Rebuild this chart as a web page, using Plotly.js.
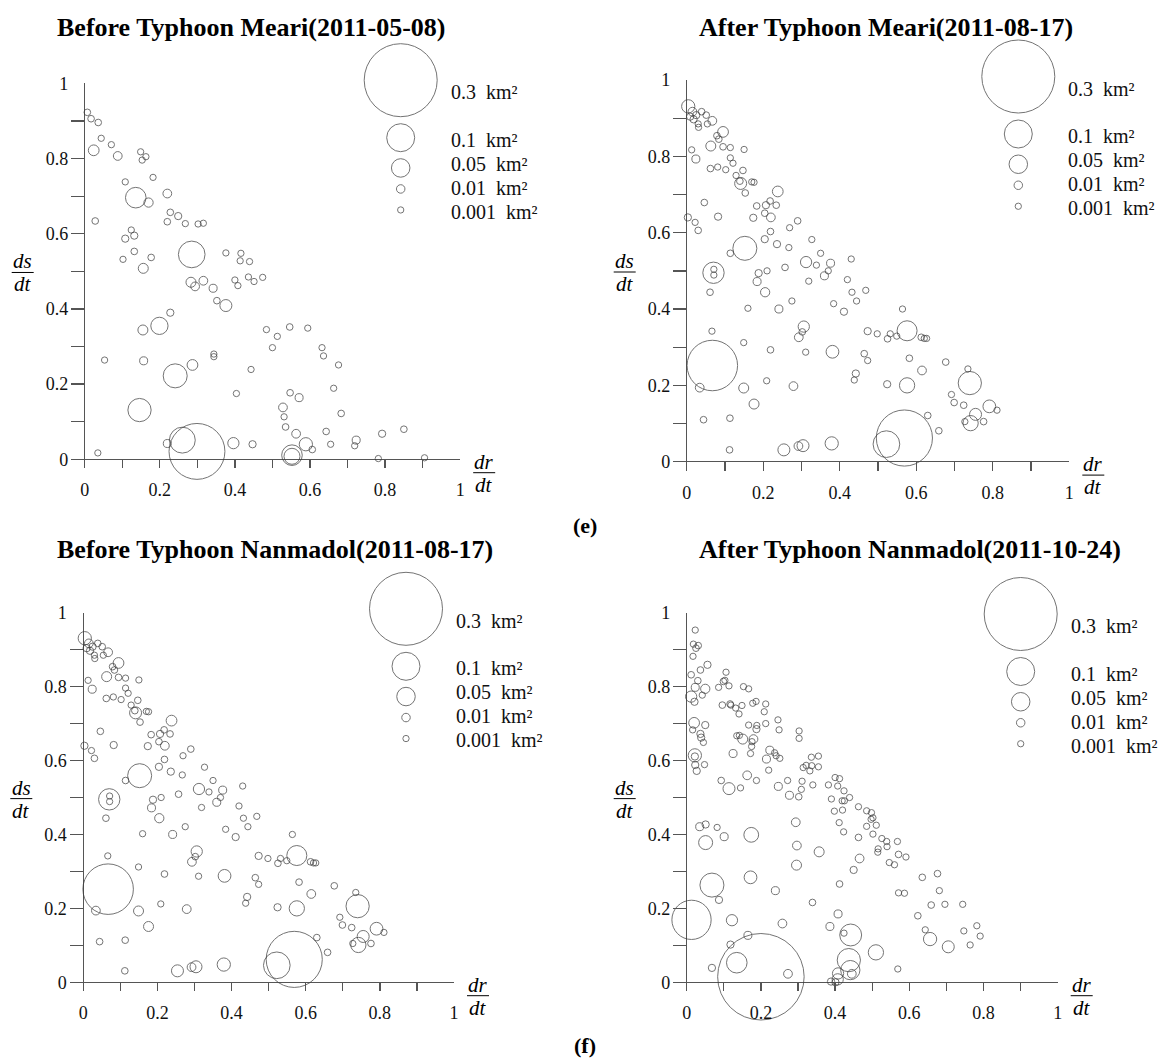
<!DOCTYPE html>
<html><head><meta charset="utf-8">
<script src="https://cdn.plot.ly/plotly-3.0.1.min.js"></script>
<style>html,body{margin:0;padding:0;background:#fff}</style>
</head><body><div id="chart" style="width:1170px;height:1061px"></div>
<script>
const W = 1170, H = 1061;

// ---------- DATA ----------
// Panel (e) left: Before Typhoon Meari (2011-05-08)
const meariBeforeX = [0.007,0.017,0.036,0.044,0.024,0.071,0.088,0.149,0.153,0.163,0.182,0.108,0.136,0.170,0.220,0.028,0.228,0.249,0.220,0.268,0.302,0.316,0.124,0.132,0.108,0.132,0.102,0.177,0.156,0.285,0.283,0.294,0.316,0.342,0.376,0.416,0.414,0.439,0.400,0.408,0.436,0.451,0.474,0.352,0.376,0.228,0.199,0.155,0.053,0.157,0.344,0.344,0.287,0.241,0.443,0.404,0.484,0.513,0.500,0.546,0.594,0.632,0.636,0.676,0.663,0.547,0.571,0.528,0.531,0.683,0.535,0.563,0.589,0.606,0.643,0.655,0.723,0.719,0.792,0.850,0.552,0.552,0.782,0.905,0.146,0.035,0.220,0.260,0.299,0.396,0.447];
const meariBeforeY = [0.923,0.906,0.896,0.854,0.822,0.837,0.807,0.818,0.796,0.805,0.750,0.738,0.696,0.683,0.707,0.634,0.657,0.647,0.632,0.627,0.626,0.628,0.610,0.595,0.587,0.553,0.532,0.537,0.508,0.545,0.471,0.460,0.475,0.455,0.549,0.548,0.528,0.526,0.477,0.462,0.485,0.473,0.484,0.422,0.409,0.390,0.355,0.344,0.264,0.262,0.280,0.273,0.251,0.222,0.239,0.175,0.345,0.327,0.297,0.352,0.349,0.297,0.275,0.251,0.189,0.177,0.164,0.138,0.113,0.122,0.086,0.068,0.040,0.026,0.074,0.040,0.051,0.036,0.068,0.080,0.011,0.008,0.002,0.004,0.131,0.017,0.042,0.051,0.021,0.043,0.040];
const meariBeforeArea = [0.0025,0.0025,0.0025,0.001,0.019,0.001,0.011,0.001,0.001,0.001,0.001,0.001,0.061,0.013,0.011,0.0025,0.0025,0.005,0.0025,0.001,0.001,0.001,0.001,0.005,0.005,0.0025,0.001,0.0025,0.016,0.093,0.016,0.011,0.011,0.008,0.001,0.001,0.001,0.001,0.001,0.001,0.001,0.001,0.001,0.0025,0.024,0.005,0.045,0.016,0.001,0.008,0.001,0.001,0.019,0.079,0.001,0.001,0.001,0.001,0.001,0.0025,0.001,0.001,0.001,0.001,0.001,0.0025,0.008,0.011,0.001,0.0025,0.0025,0.011,0.029,0.0025,0.0025,0.001,0.008,0.001,0.005,0.0025,0.061,0.040,0.001,0.001,0.075,0.001,0.008,0.089,0.224,0.021,0.005];

// 2011-08-17: After Typhoon Meari = Before Typhoon Nanmadol (same image date)
const aug17X = [0.004,0.015,0.009,0.018,0.025,0.039,0.051,0.030,0.031,0.054,0.067,0.095,0.079,0.084,0.063,0.095,0.114,0.150,0.013,0.024,0.114,0.121,0.062,0.081,0.102,0.129,0.147,0.141,0.139,0.170,0.176,0.153,0.238,0.046,0.183,0.207,0.218,0.234,0.204,0.220,0.174,0.082,0.003,0.022,0.030,0.219,0.269,0.290,0.204,0.236,0.267,0.152,0.114,0.327,0.350,0.312,0.339,0.376,0.370,0.360,0.430,0.257,0.210,0.188,0.184,0.205,0.070,0.071,0.071,0.061,0.319,0.420,0.432,0.444,0.468,0.384,0.411,0.275,0.241,0.160,0.066,0.306,0.302,0.293,0.149,0.219,0.311,0.381,0.473,0.498,0.525,0.532,0.549,0.464,0.473,0.067,0.034,0.149,0.209,0.279,0.442,0.438,0.524,0.176,0.044,0.113,0.112,0.254,0.292,0.304,0.379,0.522,0.564,0.576,0.613,0.621,0.627,0.582,0.615,0.677,0.735,0.740,0.576,0.692,0.699,0.724,0.791,0.811,0.755,0.742,0.727,0.776,0.630,0.659,0.569];
const aug17Y = [0.931,0.917,0.904,0.897,0.908,0.917,0.908,0.885,0.876,0.885,0.893,0.864,0.854,0.845,0.827,0.825,0.823,0.818,0.817,0.793,0.796,0.782,0.768,0.772,0.765,0.750,0.763,0.729,0.735,0.733,0.732,0.704,0.708,0.679,0.670,0.672,0.683,0.672,0.651,0.640,0.639,0.642,0.640,0.627,0.606,0.603,0.613,0.631,0.583,0.570,0.561,0.559,0.546,0.582,0.546,0.523,0.515,0.520,0.500,0.487,0.531,0.509,0.500,0.494,0.472,0.444,0.495,0.504,0.489,0.444,0.473,0.477,0.444,0.421,0.449,0.414,0.393,0.421,0.400,0.402,0.342,0.354,0.340,0.326,0.312,0.293,0.287,0.288,0.342,0.335,0.322,0.335,0.329,0.283,0.265,0.252,0.194,0.193,0.212,0.198,0.231,0.214,0.203,0.151,0.110,0.114,0.031,0.031,0.041,0.042,0.048,0.046,0.400,0.343,0.326,0.323,0.323,0.271,0.239,0.261,0.243,0.206,0.200,0.176,0.155,0.148,0.145,0.135,0.124,0.101,0.105,0.105,0.121,0.081,0.062];
const aug17Area = [0.029,0.011,0.005,0.005,0.005,0.0025,0.0025,0.001,0.001,0.001,0.011,0.019,0.0025,0.0025,0.016,0.0025,0.001,0.001,0.001,0.008,0.001,0.001,0.0025,0.001,0.001,0.001,0.0025,0.024,0.0025,0.001,0.001,0.0025,0.019,0.0025,0.0025,0.005,0.0025,0.0025,0.0025,0.011,0.005,0.005,0.005,0.001,0.0025,0.0025,0.001,0.0025,0.005,0.005,0.001,0.079,0.0025,0.001,0.001,0.021,0.001,0.008,0.001,0.008,0.001,0.0025,0.001,0.005,0.008,0.013,0.065,0.001,0.001,0.0025,0.001,0.001,0.001,0.001,0.001,0.001,0.005,0.001,0.008,0.001,0.001,0.021,0.0025,0.011,0.001,0.0025,0.001,0.027,0.005,0.001,0.0025,0.001,0.001,0.0025,0.001,0.2,0.011,0.016,0.001,0.011,0.005,0.001,0.005,0.016,0.0025,0.0025,0.0025,0.024,0.011,0.024,0.029,0.093,0.001,0.058,0.0025,0.001,0.001,0.0025,0.011,0.0025,0.001,0.075,0.037,0.001,0.0025,0.0025,0.027,0.001,0.024,0.037,0.001,0.0025,0.0025,0.0025,0.225];

// Panel (f) right: After Typhoon Nanmadol (2011-10-24)
const nanmadolAfterX = [0.023,0.018,0.031,0.025,0.017,0.056,0.037,0.012,0.030,0.023,0.050,0.042,0.012,0.021,0.106,0.099,0.103,0.114,0.086,0.153,0.167,0.096,0.117,0.119,0.132,0.141,0.149,0.178,0.187,0.213,0.209,0.020,0.016,0.050,0.037,0.039,0.045,0.022,0.022,0.023,0.027,0.048,0.167,0.189,0.213,0.188,0.135,0.142,0.151,0.180,0.176,0.175,0.172,0.125,0.246,0.249,0.224,0.237,0.241,0.251,0.215,0.221,0.163,0.188,0.093,0.114,0.145,0.247,0.272,0.303,0.303,0.336,0.355,0.314,0.322,0.332,0.337,0.355,0.311,0.309,0.340,0.277,0.302,0.382,0.400,0.412,0.407,0.424,0.419,0.425,0.439,0.390,0.398,0.420,0.411,0.423,0.463,0.485,0.498,0.497,0.502,0.485,0.511,0.502,0.463,0.526,0.539,0.516,0.515,0.540,0.546,0.568,0.571,0.591,0.560,0.635,0.676,0.681,0.571,0.587,0.659,0.696,0.744,0.623,0.643,0.656,0.705,0.747,0.782,0.791,0.764,0.569,0.035,0.051,0.082,0.101,0.051,0.174,0.294,0.297,0.357,0.296,0.466,0.450,0.172,0.239,0.412,0.068,0.087,0.339,0.013,0.122,0.258,0.408,0.386,0.424,0.442,0.510,0.165,0.118,0.135,0.068,0.200,0.273,0.437,0.441,0.445,0.408,0.407,0.389,0.401];
const nanmadolAfterY = [0.953,0.915,0.911,0.904,0.882,0.859,0.845,0.832,0.816,0.798,0.794,0.777,0.773,0.759,0.839,0.814,0.817,0.802,0.798,0.800,0.794,0.750,0.753,0.750,0.742,0.726,0.749,0.755,0.760,0.753,0.732,0.702,0.683,0.696,0.672,0.662,0.649,0.614,0.611,0.588,0.572,0.589,0.696,0.695,0.700,0.685,0.667,0.668,0.658,0.658,0.651,0.638,0.619,0.619,0.710,0.683,0.628,0.621,0.613,0.606,0.604,0.574,0.560,0.546,0.546,0.524,0.526,0.530,0.546,0.680,0.660,0.609,0.612,0.581,0.587,0.572,0.586,0.583,0.544,0.522,0.534,0.506,0.502,0.534,0.554,0.551,0.531,0.518,0.491,0.491,0.500,0.496,0.463,0.466,0.432,0.407,0.475,0.464,0.459,0.441,0.445,0.422,0.425,0.401,0.392,0.389,0.381,0.361,0.352,0.367,0.324,0.381,0.346,0.339,0.318,0.284,0.294,0.248,0.242,0.241,0.209,0.211,0.211,0.180,0.142,0.117,0.096,0.139,0.153,0.125,0.101,0.036,0.421,0.427,0.419,0.394,0.378,0.399,0.433,0.370,0.353,0.317,0.335,0.304,0.284,0.248,0.266,0.263,0.223,0.216,0.169,0.168,0.159,0.185,0.151,0.133,0.128,0.081,0.127,0.102,0.053,0.039,0.015,0.023,0.060,0.033,0.023,0.024,0.008,0.002,0.000];
const nanmadolAfterArea = [0.001,0.001,0.0025,0.0025,0.001,0.005,0.0025,0.0025,0.0025,0.008,0.013,0.001,0.021,0.005,0.001,0.0025,0.001,0.001,0.001,0.001,0.001,0.0025,0.0025,0.001,0.001,0.001,0.001,0.001,0.001,0.001,0.001,0.019,0.001,0.005,0.005,0.005,0.001,0.029,0.005,0.005,0.005,0.001,0.001,0.001,0.001,0.005,0.001,0.001,0.016,0.011,0.001,0.001,0.001,0.008,0.001,0.001,0.008,0.001,0.001,0.001,0.008,0.001,0.011,0.001,0.0025,0.024,0.001,0.008,0.001,0.001,0.001,0.001,0.001,0.001,0.001,0.001,0.001,0.001,0.001,0.001,0.001,0.008,0.0025,0.001,0.001,0.001,0.001,0.001,0.001,0.001,0.001,0.001,0.001,0.001,0.001,0.001,0.001,0.001,0.001,0.001,0.001,0.001,0.001,0.001,0.0025,0.001,0.001,0.001,0.001,0.001,0.001,0.001,0.0025,0.001,0.001,0.0025,0.0025,0.001,0.001,0.001,0.0025,0.001,0.001,0.0025,0.001,0.029,0.024,0.001,0.001,0.001,0.001,0.001,0.008,0.005,0.001,0.008,0.032,0.035,0.011,0.011,0.016,0.016,0.011,0.005,0.027,0.008,0.0025,0.079,0.005,0.0025,0.15,0.021,0.011,0.008,0.008,0.001,0.068,0.037,0.008,0.005,0.061,0.005,0.36,0.011,0.075,0.054,0.011,0.021,0.021,0.005,0.005];

// Legend and labels
const legendAreas = [0.3, 0.1, 0.05, 0.01, 0.001];
const legendLabels = ['0.3\u00A0 km\u00B2', '0.1\u00A0 km\u00B2', '0.05\u00A0 km\u00B2', '0.01\u00A0 km\u00B2', '0.001\u00A0 km\u00B2'];
const tickVals = [0, 0.2, 0.4, 0.6, 0.8, 1];
const tickText = ['0', '0.2', '0.4', '0.6', '0.8', '1'];
const minorStep = 0.1;
const panelTitles = ['Before Typhoon Meari(2011-05-08)', 'After Typhoon Meari(2011-08-17)', 'Before Typhoon Nanmadol(2011-08-17)', 'After Typhoon Nanmadol(2011-10-24)'];
const rowLabels = ['(e)', '(f)'];

// ---------- SIZE SCALE (area km2 -> circle diameter px) ----------
const sizeStops = [[0.001, 6.3], [0.01, 8.5], [0.05, 18.5], [0.1, 28], [0.3, 73]];
function diam(a) {
  if (a <= sizeStops[0][0]) return sizeStops[0][1];
  for (let i = 1; i < sizeStops.length; i++) {
    if (a <= sizeStops[i][0]) {
      const [a0, d0] = sizeStops[i - 1], [a1, d1] = sizeStops[i];
      return d0 + (a - a0) / (a1 - a0) * (d1 - d0);
    }
  }
  const [a0, d0] = sizeStops[sizeStops.length - 2], [a1, d1] = sizeStops[sizeStops.length - 1];
  return d1 + (a - a1) / (a1 - a0) * (d1 - d0);
}

// ---------- LAYOUT GEOMETRY (pixels) ----------
const FONT = "'Liberation Serif', 'Times New Roman', serif";
const EXT_L = 13.5, EXT_B = 9;
const panels = [
  {x0: 84.7, x1: 460.2, y0: 459.3, y1: 83.4, legX: 400.7, legTop: 43.7, tx: 55, ty: 27,
   xs: meariBeforeX, ys: meariBeforeY, as: meariBeforeArea},
  {x0: 686.7, x1: 1069.3, y0: 461.7, y1: 80.0, legX: 1018.3, legTop: 40.0, tx: 697, ty: 27,
   xs: aug17X, ys: aug17Y, as: aug17Area},
  {x0: 83.3, x1: 454.0, y0: 982.3, y1: 612.7, legX: 406.0, legTop: 572.3, tx: 55, ty: 549,
   xs: aug17X, ys: aug17Y, as: aug17Area},
  {x0: 686.7, x1: 1057.7, y0: 982.3, y1: 612.7, legX: 1020.7, legTop: 577.5, tx: 697, ty: 549,
   xs: nanmadolAfterX, ys: nanmadolAfterY, as: nanmadolAfterArea}
];

const layout = {
  width: W, height: H, autosize: false,
  margin: {l: 0, r: 0, t: 0, b: 0, pad: 0},
  paper_bgcolor: '#fff', plot_bgcolor: 'rgba(0,0,0,0)',
  showlegend: false,
  font: {family: FONT, color: '#111'},
  annotations: [], shapes: [],
  xaxis5: {domain: [0, 1], range: [0, W], visible: false, fixedrange: true, anchor: 'y5'},
  yaxis5: {domain: [0, 1], range: [H, 0], visible: false, fixedrange: true, anchor: 'x5'}
};

const traces = [];
const lineCol = '#555';

panels.forEach((p, i) => {
  const n = i + 1;
  const ux = p.x1 - p.x0, uy = p.y0 - p.y1;
  const common = {
    showline: false, showgrid: false, zeroline: true, zerolinecolor: lineCol, zerolinewidth: 1.3,
    ticks: 'inside', tickwidth: 1.3, tickcolor: lineCol,
    tickmode: 'array', tickvals: tickVals, ticktext: tickText,
    tickfont: {family: FONT, size: 18, color: '#111'}, fixedrange: true
  };
  layout['xaxis' + n] = Object.assign({}, common, {
    domain: [(p.x0 - EXT_L) / W, p.x1 / W],
    range: [-EXT_L / ux, 1], anchor: 'y' + n, ticklen: EXT_B, ticklabelstandoff: 9,
    minor: {tick0: 0, dtick: minorStep, ticks: 'inside', ticklen: EXT_B, tickwidth: 1.3, tickcolor: lineCol, showgrid: false}
  });
  layout['yaxis' + n] = Object.assign({}, common, {
    domain: [(H - (p.y0 + EXT_B)) / H, (H - p.y1) / H],
    range: [-EXT_B / uy, 1], anchor: 'x' + n, ticklen: EXT_L, ticklabelstandoff: 2,
    minor: {tick0: 0, dtick: minorStep, ticks: 'inside', ticklen: EXT_L, tickwidth: 1.3, tickcolor: lineCol, showgrid: false}
  });

  traces.push({
    type: 'scatter', mode: 'markers', x: p.xs, y: p.ys,
    xaxis: 'x' + n, yaxis: 'y' + n, cliponaxis: false, hoverinfo: 'skip',
    marker: {size: p.as.map(diam), sizemode: 'diameter', color: 'rgba(0,0,0,0)',
             line: {color: '#3a3a3a', width: 1}}
  });

  // size legend, stacked by circle size
  const d = legendAreas.map(diam);
  const cy = [p.legTop + d[0] / 2];
  for (let k = 1; k < d.length; k++) cy.push(cy[k - 1] + Math.max(d[k - 1] / 2 + d[k] / 2 + 7, 21));
  traces.push({
    type: 'scatter', mode: 'markers', x: legendAreas.map(() => p.legX), y: cy,
    xaxis: 'x5', yaxis: 'y5', cliponaxis: false, hoverinfo: 'skip',
    marker: {size: d, sizemode: 'diameter', color: 'rgba(0,0,0,0)', line: {color: '#3a3a3a', width: 1}}
  });
  legendLabels.forEach((lab, k) => {
    const ly = k === 0 ? cy[0] + 12 : cy[1] + 2 + (k - 1) * 24;
    layout.annotations.push({xref: 'x5', yref: 'y5', x: p.legX + 48, y: ly,
      text: lab, showarrow: false, xanchor: 'left', yanchor: 'middle',
      font: {family: FONT, size: 20, color: '#111'}});
  });

  // title
  layout.annotations.push({xref: 'x5', yref: 'y5', x: p.tx, y: p.ty, text: '<b>' + panelTitles[i] + '</b>',
    showarrow: false, xanchor: 'left', yanchor: 'middle', font: {family: FONT, size: 26, color: '#000'}});

  // axis title fractions
  const fracs = [
    {cx: p.x0 - 62, cy: p.y0 - 0.497 * uy, top: 'ds', bot: 'dt'},
    {cx: p.x1 + 24, cy: p.y0 + 13.4, top: 'dr', bot: 'dt'}
  ];
  fracs.forEach(f => {
    layout.annotations.push({xref: 'x5', yref: 'y5', x: f.cx, y: f.cy - 11, text: '<i>' + f.top + '</i>',
      showarrow: false, xanchor: 'center', yanchor: 'middle', font: {family: FONT, size: 21, color: '#000'}});
    layout.annotations.push({xref: 'x5', yref: 'y5', x: f.cx, y: f.cy + 12, text: '<i>' + f.bot + '</i>',
      showarrow: false, xanchor: 'center', yanchor: 'middle', font: {family: FONT, size: 21, color: '#000'}});
    layout.shapes.push({type: 'line', xref: 'x5', yref: 'y5', x0: f.cx - 11, x1: f.cx + 11, y0: f.cy, y1: f.cy,
      line: {color: '#000', width: 1}});
  });
});

rowLabels.forEach((lab, r) => {
  layout.annotations.push({xref: 'x5', yref: 'y5', x: 585, y: r === 0 ? 525 : 1045, text: '<b>' + lab + '</b>',
    showarrow: false, xanchor: 'center', yanchor: 'middle', font: {family: FONT, size: 22, color: '#000'}});
});

Plotly.newPlot('chart', traces, layout, {staticPlot: true, displayModeBar: false});
</script>
</body></html>
